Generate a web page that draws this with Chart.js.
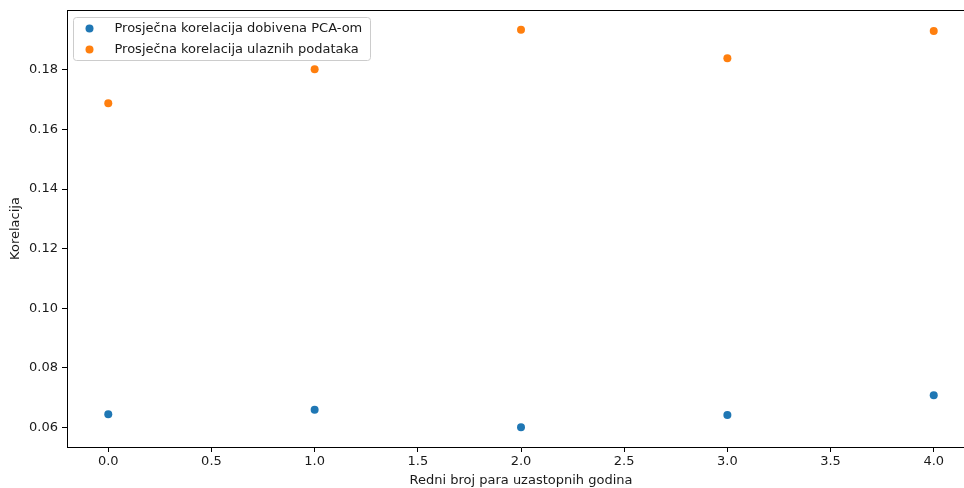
<!DOCTYPE html>
<html>
<head>
<meta charset="utf-8">
<script src="https://cdn.jsdelivr.net/npm/chart.js@4/dist/chart.umd.min.js"></script>
<style>
    html, body { margin: 0; padding: 0; background: #fff; }
    .wrap { width: 964px; height: 488px; overflow: hidden; position: relative; }
    canvas { display: block; }
</style>
</head>
<body>
<div class="wrap">
    <canvas id="corrChart" width="990" height="488"></canvas>
</div>
<script>
// Pair index (x) and average correlation per series
const pairIndex = [0, 1, 2, 3, 4];
const pcaCorr = [0.0644, 0.0659, 0.0601, 0.0642, 0.0708];
const inputCorr = [0.1688, 0.1802, 0.1934, 0.1839, 0.1930];

const seriesLabels = [
    'Prosječna korelacija dobivena PCA-om',
    'Prosječna korelacija ulaznih podataka'
];
const xTicks = [0, 0.5, 1, 1.5, 2, 2.5, 3, 3.5, 4];
const yTicks = [0.06, 0.08, 0.10, 0.12, 0.14, 0.16, 0.18];

const BLUE = '#1f77b4';
const ORANGE = '#ff7f0e';
const TEXT = '#1a1a1a';
const FONT = "'DejaVu Sans', sans-serif";
const FONT_SIZE = 13;

// 5% margins around the data, like the default autoscale
const allY = pcaCorr.concat(inputCorr);
const yLo = Math.min(...allY), yHi = Math.max(...allY);
const yPad = (yHi - yLo) * 0.05;
const xPad = (Math.max(...pairIndex) - Math.min(...pairIndex)) * 0.05;

function toPoints(xs, ys) {
    return xs.map((x, i) => ({ x: x, y: ys[i] }));
}

// Top spine of the plot area
const framePlugin = {
    id: 'frame',
    afterDatasetsDraw(chart) {
        const xs = chart.scales.x, ys = chart.scales.y;
        const ctx = chart.ctx;
        ctx.save();
        ctx.strokeStyle = '#000';
        ctx.lineWidth = 1;
        ctx.beginPath();
        ctx.moveTo(xs.left, ys.top + 0.5);
        ctx.lineTo(xs.right, ys.top + 0.5);
        ctx.stroke();
        ctx.restore();
    }
};

// Legend box drawn inside the plot, upper left
const insideLegend = {
    id: 'insideLegend',
    afterDraw(chart) {
        const ctx = chart.ctx;
        const x = chart.scales.x.left + 6.5, y = chart.scales.y.top + 7.5;
        const w = 297, h = 43, r = 3;
        ctx.save();
        ctx.fillStyle = 'rgba(255,255,255,0.8)';
        ctx.strokeStyle = '#cccccc';
        ctx.lineWidth = 1;
        ctx.beginPath();
        ctx.roundRect(x, y, w, h, r);
        ctx.fill();
        ctx.stroke();
        ctx.font = FONT_SIZE + 'px ' + FONT;
        ctx.textBaseline = 'middle';
        ctx.textAlign = 'left';
        chart.data.datasets.forEach((ds, i) => {
            const cy = y + 11 + i * 21;
            ctx.fillStyle = ds.backgroundColor;
            ctx.beginPath();
            ctx.arc(x + 16, cy, 4, 0, Math.PI * 2);
            ctx.fill();
            ctx.fillStyle = TEXT;
            ctx.fillText(ds.label, x + 41, cy + 0.5);
        });
        ctx.restore();
    }
};

const ctx = document.getElementById('corrChart').getContext('2d');
new Chart(ctx, {
    type: 'scatter',
    data: {
        datasets: [{
            label: seriesLabels[0],
            data: toPoints(pairIndex, pcaCorr),
            backgroundColor: BLUE,
            borderColor: BLUE,
            pointRadius: 4,
            pointBorderWidth: 0
        }, {
            label: seriesLabels[1],
            data: toPoints(pairIndex, inputCorr),
            backgroundColor: ORANGE,
            borderColor: ORANGE,
            pointRadius: 4,
            pointBorderWidth: 0
        }]
    },
    options: {
        responsive: false,
        animation: false,
        devicePixelRatio: 1,
        layout: { autoPadding: false, padding: { top: 10, right: 15, left: 0, bottom: 0 } },
        plugins: {
            legend: { display: false },
            tooltip: { enabled: false }
        },
        scales: {
            x: {
                type: 'linear',
                min: Math.min(...pairIndex) - xPad,
                max: Math.max(...pairIndex) + xPad,
                afterBuildTicks: (scale) => { scale.ticks = xTicks.map(v => ({ value: v })); },
                afterFit: (scale) => {
                    scale.height = 41;
                    scale.paddingLeft = 0;
                    scale.paddingRight = 0;
                },
                border: { display: true, color: '#000', width: 1 },
                grid: { drawOnChartArea: false, drawTicks: true, tickLength: 5, color: '#000', tickColor: '#000' },
                ticks: {
                    color: TEXT,
                    font: { family: FONT, size: FONT_SIZE },
                    padding: 2,
                    maxRotation: 0,
                    callback: (v) => Number(v).toFixed(1)
                },
                title: {
                    display: true,
                    text: 'Redni broj para uzastopnih godina',
                    color: TEXT,
                    font: { family: FONT, size: FONT_SIZE },
                    padding: { top: 0, bottom: 0 }
                }
            },
            y: {
                type: 'linear',
                min: yLo - yPad,
                max: yHi + yPad,
                afterBuildTicks: (scale) => { scale.ticks = yTicks.map(v => ({ value: v })); },
                afterFit: (scale) => {
                    scale.width = 67;
                    scale.paddingTop = 0;
                    scale.paddingBottom = 0;
                },
                border: { display: true, color: '#000', width: 1 },
                grid: { drawOnChartArea: false, drawTicks: true, tickLength: 5, color: '#000', tickColor: '#000' },
                ticks: {
                    color: TEXT,
                    font: { family: FONT, size: FONT_SIZE },
                    padding: 4,
                    callback: (v) => Number(v).toFixed(2)
                },
                title: {
                    display: true,
                    text: 'Korelacija',
                    color: TEXT,
                    font: { family: FONT, size: FONT_SIZE },
                    padding: { top: 8, bottom: 0 }
                }
            }
        }
    },
    plugins: [framePlugin, insideLegend]
});
</script>
</body>
</html>
